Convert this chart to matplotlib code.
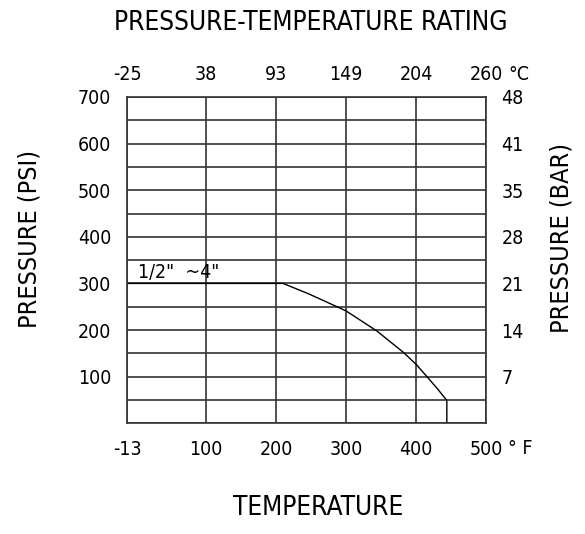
import matplotlib.pyplot as plt
import numpy as np

plt.rcParams['font.family'] = 'DejaVu Sans'
plt.rcParams['font.stretch'] = 'condensed'

# rating curve (deg F, psi)
temp_f = [-13, 210, 246, 287, 300, 344, 382, 401, 415, 430, 444, 444]
press_psi = [300, 300, 278, 250, 241, 198, 152, 125, 101, 75, 49, 0]

f_ticks = [-13, 100, 200, 300, 400, 500]
f_labels = ['-13', '100', '200', '300', '400', '500']
c_labels = ['-25', '38', '93', '149', '204', '260']
psi_ticks = [100, 200, 300, 400, 500, 600, 700]
bar_labels = ['7', '14', '21', '28', '35', '41', '48']

fig = plt.figure(figsize=(5.85, 5.34), dpi=100)
ax = fig.add_axes([0.2171, 0.2074, 0.6137, 0.611])

ax.set_xlim(-13, 500)
ax.set_ylim(0, 700)
ax.set_xticks(f_ticks)
ax.set_xticklabels(f_labels)
ax.set_yticks(psi_ticks)
ax.set_yticks(np.arange(0, 701, 50), minor=True)
ax.grid(True, which='both', axis='y', color='#333333', lw=1.2)
ax.grid(True, which='major', axis='x', color='#333333', lw=1.2)
ax.tick_params(which='both', length=0, labelsize=14)
ax.tick_params(axis='x', pad=12)
ax.tick_params(axis='y', pad=11.5)
for s in ax.spines.values():
    s.set_color('#333333')
    s.set_linewidth(1.2)

ax.plot(temp_f, press_psi, color='black', lw=1.0)
ax.text(3, 303, '1/2"  ~4"', fontsize=14, ha='left', va='bottom')

# top axis (deg C)
axt = ax.twiny()
axt.set_xlim(ax.get_xlim())
axt.set_xticks(f_ticks)
axt.set_xticklabels(c_labels)
axt.tick_params(length=0, labelsize=14, pad=9.5)

# right axis (bar)
axr = ax.twinx()
axr.set_ylim(ax.get_ylim())
axr.set_yticks(psi_ticks)
axr.set_yticklabels(bar_labels)
axr.tick_params(length=0, labelsize=14, pad=11)
for a in (axt, axr):
    for s in a.spines.values():
        s.set_visible(False)

fig.text(508 / 585, 1 - 74 / 534, '°C', fontsize=14, ha='left', va='center')
fig.text(508 / 585, 1 - 449 / 534, '° F', fontsize=14, ha='left', va='center')

fig.text(311 / 585, 1 - 23 / 534, 'PRESSURE-TEMPERATURE RATING', fontsize=18.8,
         ha='center', va='center')
fig.text(318 / 585, 1 - 508 / 534, 'TEMPERATURE', fontsize=18.8,
         ha='center', va='center')
fig.text(30 / 585, 1 - 239 / 534, 'PRESSURE (PSI)', fontsize=18,
         ha='center', va='center', rotation=90)
fig.text(561 / 585, 1 - 238 / 534, 'PRESSURE (BAR)', fontsize=18,
         ha='center', va='center', rotation=90)

fig.savefig('out.png', dpi=100)
